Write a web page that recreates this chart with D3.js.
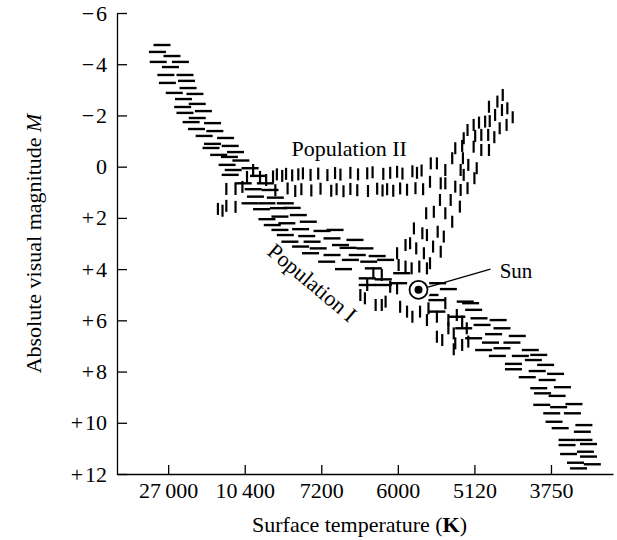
<!DOCTYPE html>
<html lang="en">
<head>
    <meta charset="utf-8">
    <style>
        html, body {
            margin: 0;
            padding: 0;
            background: #fff;
        }
        svg {
            display: block;
            font-family: "Liberation Serif", "Times New Roman", serif;
        }
        .dash {
            stroke: #000;
        }
        .axis path, .axis line {
            stroke: #000;
            stroke-width: 1.3;
        }
        .axis text {
            font-family: "Liberation Serif", "Times New Roman", serif;
            font-size: 22px;
            fill: #000;
        }
    </style>
</head>
<body>

<script src="https://d3js.org/d3.v7.min.js" charset="utf-8"></script>
<script>
// x is spectral subclass: B0 = 0, A0 = 10, F0 = 20, G0 = 30, K0 = 40, M0 = 50
var tempTicks = [0, 10, 20, 30, 40, 50];
var tempLabels = ['27\u2009000', '10\u2009400', '7200', '6000', '5120', '3750'];

var magTicks = [-6, -4, -2, 0, 2, 4, 6, 8, 10, 12];
var magLabels = ['\u2212\u200a6', '\u2212\u200a4', '\u2212\u200a2', '0', '+\u200a2', '+\u200a4',
    '+\u200a6', '+\u200a8', '+\u200a10', '+\u200a12'];

// population I stars (horizontal dashes): [subclass, M]
var popI = [
    [-0.8, -4.75], [-1.4, -4.48], [0.5, -4.32], [-1.3, -4.09], [1.6, -4.09], [0.3, -3.89],
    [-0.3, -3.58], [2.2, -3.58], [-0.1, -3.27], [2.4, -3.35], [2.6, -3.07], [0.8, -2.88],
    [3.5, -2.84], [2.0, -2.64], [3.8, -2.45], [1.9, -2.33], [2.2, -2.10], [4.6, -2.17],
    [3.8, -1.90], [3.0, -1.74], [5.8, -1.70], [3.7, -1.47], [6.1, -1.39], [4.7, -1.20],
    [7.5, -1.12], [5.8, -0.89], [8.1, -0.81], [5.6, -0.73], [8.8, -0.57], [6.6, -0.46],
    [8.0, -0.38], [9.5, -0.24], [7.7, -0.07], [10.7, 0.06], [8.5, 0.13], [8.1, 0.32],
    [11.8, 0.36], [9.8, 0.65], [12.7, 0.65], [11.1, 0.88], [13.3, 0.91], [11.4, 1.17],
    [14.0, 1.21], [10.7, 1.43], [12.9, 1.43], [15.3, 1.43], [12.2, 1.66], [14.4, 1.62],
    [16.2, 1.61], [12.9, 2.05], [14.6, 1.95], [17.0, 1.89], [13.6, 2.28], [15.5, 2.21],
    [18.3, 2.15], [14.6, 2.47], [17.3, 2.44], [20.1, 2.51], [21.8, 2.47], [15.3, 2.67],
    [18.1, 2.71], [21.4, 2.80], [24.4, 2.86], [15.9, 2.93], [18.8, 2.93], [22.5, 3.06],
    [17.3, 3.12], [19.6, 3.19], [23.5, 3.17], [25.7, 3.19], [18.6, 3.38], [21.4, 3.45],
    [24.7, 3.45], [27.3, 3.49], [20.7, 3.71], [23.8, 3.64], [26.2, 3.71], [28.4, 3.64],
    [22.9, 4.00], [26.8, 3.97], [30.5, 4.16], [26.0, 4.36], [28.1, 4.40], [26.0, 4.62],
    [28.1, 4.62], [30.1, 4.55], [35.2, 4.55], [36.6, 4.78], [34.2, 5.01], [38.8, 5.27],
    [35.1, 5.21], [39.5, 5.33], [39.9, 5.59], [35.1, 5.66], [43.1, 5.99], [40.6, 5.92],
    [37.7, 5.86], [43.6, 6.31], [41.0, 6.18], [38.6, 6.31], [42.5, 6.54], [45.6, 6.61],
    [39.9, 6.70], [42.1, 6.87], [44.9, 6.87], [41.2, 7.16], [43.6, 7.09], [47.3, 7.16],
    [43.0, 7.39], [46.0, 7.39], [48.4, 7.35], [45.1, 7.70], [47.7, 7.55], [49.3, 7.74],
    [45.1, 7.91], [48.2, 7.98], [50.6, 8.09], [46.9, 8.22], [49.5, 8.33], [51.5, 8.61],
    [48.4, 8.65], [48.9, 8.85], [50.8, 8.95], [48.8, 9.30], [51.0, 9.39], [53.0, 9.27],
    [50.1, 9.63], [52.8, 9.63], [50.4, 9.96], [54.3, 10.09], [51.2, 10.21], [54.1, 10.35],
    [52.1, 10.67], [54.3, 10.67], [54.9, 10.83], [52.1, 10.87], [52.3, 11.22], [54.5, 11.13],
    [54.9, 11.32], [53.2, 11.56], [55.4, 11.62], [53.6, 11.78]
];

// population II horizontal branch (vertical dashes): [subclass, M]
var popIIBranch = [
    [13.7, 0.38], [14.2, 0.30], [14.9, 0.36], [15.4, 0.28], [16.2, 0.34], [17.0, 0.30],
    [17.6, 0.26], [18.6, 0.32], [19.6, 0.27], [20.8, 0.33], [21.8, 0.25], [22.5, 0.31],
    [23.8, 0.24], [24.8, 0.30], [26.0, 0.26], [26.7, 0.22], [28.1, 0.28], [29.0, 0.24],
    [29.9, 0.20], [30.6, 0.27], [31.9, 0.18], [32.5, 0.24], [33.1, 0.15],
    [14.0, 0.92], [15.6, 0.85], [16.6, 0.95], [17.4, 0.88], [18.7, 0.93], [19.9, 0.86],
    [21.3, 0.94], [22.0, 0.88], [22.9, 0.96], [23.8, 0.87], [24.7, 0.92], [26.1, 0.95],
    [27.3, 0.86], [28.0, 0.93], [28.6, 0.88], [29.4, 0.94], [30.3, 0.85], [31.2, 0.90],
    [32.3, 0.84], [33.3, 0.88],
    [6.5, 1.65], [7.1, 1.72], [7.6, 1.53], [8.8, 1.57], [7.6, 0.87], [8.8, 0.87],
    [9.7, 0.79], [10.3, 0.40], [11.1, 0.13], [12.0, 0.40], [12.8, 0.52]
];

// population II giant and subgiant branch
var popIIGiants = [
    [43.7, -2.80], [43.0, -2.54], [41.9, -2.34], [44.3, -2.28], [45.0, -1.93], [43.6, -2.21],
    [42.7, -2.02], [41.4, -1.76], [40.6, -1.72], [39.9, -1.63], [42.0, -1.78], [44.2, -1.63],
    [43.3, -1.50], [39.1, -1.43], [38.6, -1.11], [40.1, -1.20], [40.9, -1.24], [41.8, -1.24],
    [42.6, -1.15], [37.5, -0.72], [38.4, -0.81], [39.9, -0.78], [40.9, -0.65], [41.9, -0.65],
    [37.1, -0.33], [38.5, -0.33], [39.2, -0.07], [40.3, 0.06], [38.2, 0.13], [36.2, 0.13],
    [35.1, -0.13], [34.3, -0.13], [35.6, 0.65], [36.2, 0.65], [37.5, 0.78], [38.6, 0.32],
    [38.2, 0.91], [39.1, 0.84], [40.0, 0.45], [34.2, 0.59], [36.9, 1.30], [38.1, 1.56],
    [35.5, 1.30], [34.7, 1.76], [33.7, 1.82], [36.2, 1.82], [37.1, 2.15], [32.1, 2.41],
    [33.2, 2.60], [33.8, 2.67], [35.2, 2.54], [36.0, 2.73], [31.0, 3.06], [31.6, 2.99],
    [32.4, 3.19], [33.4, 3.38], [34.6, 3.12], [35.6, 3.32], [29.9, 3.38],
    [34.2, 3.77], [30.1, 3.84], [31.0, 3.90], [31.8, 3.97], [32.8, 3.90], [33.8, 3.97],
    [26.8, 4.16], [27.9, 4.23], [26.0, 4.62], [29.0, 4.69], [29.9, 4.75], [25.1, 5.01],
    [25.7, 5.14], [27.1, 5.40], [27.9, 5.40], [28.4, 5.27], [30.3, 5.47], [31.2, 5.66],
    [31.9, 5.86], [32.9, 5.66], [34.0, 5.53], [33.8, 5.99], [35.1, 5.86], [36.2, 5.33],
    [36.6, 5.99], [37.7, 5.79], [38.4, 6.05], [39.0, 6.31], [36.6, 6.31], [37.3, 6.51],
    [35.1, 6.64], [35.8, 6.77], [37.5, 6.90], [39.2, 6.83], [38.4, 6.96], [37.3, 7.13]
];

// the Sun and the labels: [subclass, M]
var sun = [32.7, 4.81];
var sunLabelAt = [43.3, 4.35];
var sunLeaderEnd = [42.1, 4.0];
var pop2LabelAt = [16.1, -0.42];
var pop1LabelAt = [18.2, 4.75];

(function() {
    var width = 617;
    var height = 540;

    var svg = d3.select('body')
        .append('svg')
        .attr('width', width)
        .attr('height', height)

    var x = d3.scaleLinear().domain([-6.68, 58.1]).range([117, 613]);
    var y = d3.scaleLinear().domain([-6, 12]).range([13, 474]);

    // axes, ticks point inwards
    svg.append('g')
        .attr('class', 'axis')
        .attr('transform', 'translate(0,' + y(12) + ')')
        .call(d3.axisBottom(x)
            .tickValues(tempTicks)
            .tickFormat(function (d, i) { return tempLabels[i]; })
            .tickSizeInner(-9)
            .tickSizeOuter(0)
            .tickPadding(8))

    svg.append('g')
        .attr('class', 'axis')
        .attr('transform', 'translate(' + x.range()[0] + ',0)')
        .call(d3.axisLeft(y)
            .tickValues(magTicks)
            .tickFormat(function (d, i) { return magLabels[i]; })
            .tickSizeInner(-10)
            .tickSizeOuter(0)
            .tickPadding(10))

    svg.append('text')
        .attr('x', x(25))
        .attr('y', 532)
        .attr('text-anchor', 'middle')
        .style('font-size', '22px')
        .html('Surface temperature (<tspan font-weight="bold">K</tspan>)')

    svg.append('text')
        .attr('transform', 'translate(41,' + y(3) + ') rotate(-90)')
        .attr('text-anchor', 'middle')
        .style('font-size', '22px')
        .html('Absolute visual magnitude <tspan font-style="italic">M</tspan>')

    var g = svg.append('g')

    // population I: short horizontal dashes
    g.selectAll('line.pop1')
        .data(popI)
        .enter()
        .append('line')
        .attr('class', 'dash pop1')
        .attr('x1', function (d) { return x(d[0]) - 8.5; })
        .attr('x2', function (d) { return x(d[0]) + 8.5; })
        .attr('y1', function (d) { return y(d[1]); })
        .attr('y2', function (d) { return y(d[1]); })
        .style('stroke-width', 2.4)

    // population II: short vertical dashes
    g.selectAll('line.pop2')
        .data(popIIBranch.concat(popIIGiants))
        .enter()
        .append('line')
        .attr('class', 'dash pop2')
        .attr('x1', function (d) { return x(d[0]); })
        .attr('x2', function (d) { return x(d[0]); })
        .attr('y1', function (d) { return y(d[1]) - 6; })
        .attr('y2', function (d) { return y(d[1]) + 6; })
        .style('stroke-width', 2.2)

    // the Sun
    var sx = x(sun[0]), sy = y(sun[1]);
    var ex = x(sunLeaderEnd[0]), ey = y(sunLeaderEnd[1]);
    var a = Math.atan2(ey - sy, ex - sx);
    svg.append('circle')
        .attr('cx', sx)
        .attr('cy', sy)
        .attr('r', 12)
        .style('fill', '#fff')
    svg.append('circle')
        .attr('cx', sx)
        .attr('cy', sy)
        .attr('r', 9)
        .style('fill', 'none')
        .style('stroke', '#000')
        .style('stroke-width', 1.8)
    svg.append('circle')
        .attr('cx', sx)
        .attr('cy', sy)
        .attr('r', 4)
        .style('fill', '#000')
    svg.append('line')
        .attr('x1', sx + 10 * Math.cos(a))
        .attr('y1', sy + 10 * Math.sin(a))
        .attr('x2', ex)
        .attr('y2', ey)
        .style('stroke', '#000')
        .style('stroke-width', 1.3)
    svg.append('text')
        .attr('x', x(sunLabelAt[0]))
        .attr('y', y(sunLabelAt[1]))
        .style('font-size', '21px')
        .text('Sun')

    svg.append('text')
        .attr('x', x(pop2LabelAt[0]))
        .attr('y', y(pop2LabelAt[1]))
        .style('font-size', '22px')
        .text('Population II')

    svg.append('text')
        .attr('transform', 'translate(' + x(pop1LabelAt[0]) + ',' + y(pop1LabelAt[1]) + ') rotate(40)')
        .attr('text-anchor', 'middle')
        .style('font-size', '22px')
        .text('Population I')
})();
</script>

</body>
</html>
